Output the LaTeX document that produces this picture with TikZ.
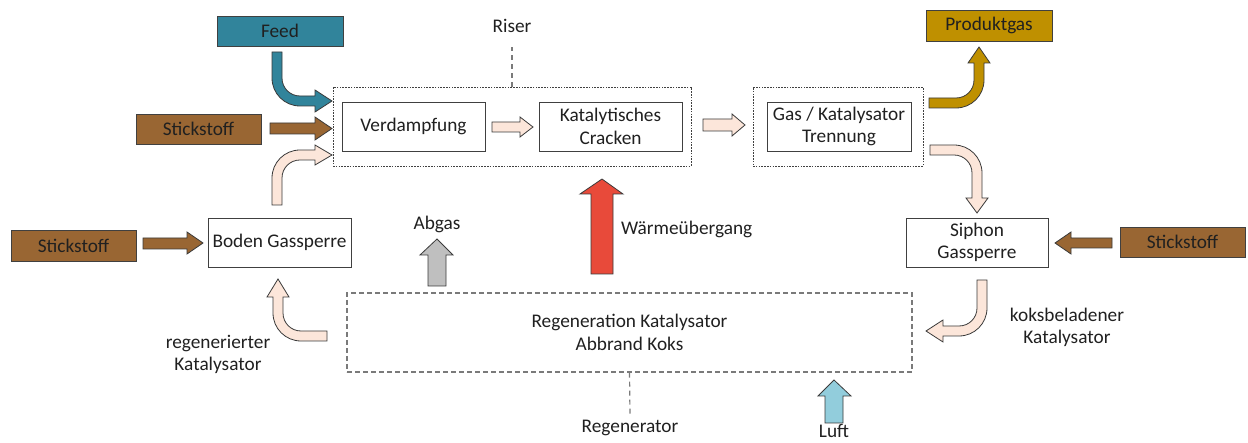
\documentclass[tikz,border=0pt]{standalone}
\usepackage{fontspec}
\setmainfont{Carlito}
\definecolor{txt}{HTML}{202020}
\definecolor{boxline}{HTML}{404040}
\definecolor{arrline}{HTML}{3A3A3A}
\definecolor{dashc}{HTML}{7A7A7A}
\definecolor{feedc}{HTML}{31849B}
\definecolor{stickc}{HTML}{996633}
\definecolor{prodc}{HTML}{BF9000}
\definecolor{palec}{HTML}{FCE6DA}
\definecolor{redc}{HTML}{E84A3A}
\definecolor{greyc}{HTML}{BFBFBF}
\definecolor{bluec}{HTML}{92CDDC}
\begin{document}
\begin{tikzpicture}[x=1pt,y=-1pt,
  every node/.style={font=\fontsize{19.3}{22.5}\selectfont, text=txt},
  box/.style={draw=boxline, line width=0.9pt, fill=white, align=center, inner sep=0pt},
  colbox/.style={draw=boxline, line width=0.9pt, align=center, inner sep=0pt},
  riserbox/.style={draw=boxline, line width=0.8pt, dash pattern=on 1.6pt off 1.2pt, inner sep=0pt},
  regenbox/.style={draw=dashc, line width=1.2pt, dash pattern=on 5pt off 3pt, align=center, inner sep=0pt},
  guide/.style={draw=dashc, line width=1.2pt, dash pattern=on 5pt off 4pt},
  blk/.style={draw=arrline, line width=0.8pt, line join=miter},
  lbl/.style={align=center, inner sep=0pt}
]
\useasboundingbox (0,0) rectangle (1248,443);

% dashed group boxes
\node[riserbox, minimum width=358pt, minimum height=79pt] (riser) at (512,126.5) {};
\node[riserbox, minimum width=170pt, minimum height=79pt] (gasgrp) at (838,126.5) {};
\node[regenbox, minimum width=565pt, minimum height=79pt] (regen) at (629.5,332.5) {Regeneration Katalysator\\Abbrand Koks};

% process boxes
\node[box, minimum width=143pt, minimum height=49pt] (verd) at (413.5,126.5) {Verdampfung};
\node[box, minimum width=143pt, minimum height=49pt] (crack) at (610.5,126.5) {Katalytisches\\Cracken};
\node[box, minimum width=144pt, minimum height=49pt] (gas) at (839,126.5) {Gas / Katalysator\\Trennung};
\node[box, minimum width=143pt, minimum height=49pt] (boden) at (279.5,242.5) {Boden Gassperre};
\node[box, minimum width=142pt, minimum height=49pt] (siphon) at (977,242.5) {Siphon\\Gassperre};

% coloured source boxes
\node[colbox, fill=feedc, minimum width=126pt, minimum height=30pt] (feed) at (280,31) {Feed};
\node[colbox, fill=stickc, minimum width=125pt, minimum height=30pt] (st1) at (198.5,129) {Stickstoff};
\node[colbox, fill=stickc, minimum width=125pt, minimum height=31pt] (st2) at (73.5,245.5) {Stickstoff};
\node[colbox, fill=stickc, minimum width=125pt, minimum height=30pt] (st3) at (1182.5,242) {Stickstoff};
\node[colbox, fill=prodc, minimum width=126pt, minimum height=31pt] (prod) at (989,25.5) {Produktgas};

% labels
\node[lbl] (riserlbl) at (512,26) {Riser};
\node[lbl] (abgas) at (437,224) {Abgas};
\node[lbl, anchor=west] (waerme) at (621,229) {Wärmeübergang};
\node[lbl] (regkat) at (218,354.5) {regenerierter\\Katalysator};
\node[lbl] (kokskat) at (1067,327.5) {koksbeladener\\Katalysator};
\node[lbl] (regenlbl) at (630,428) {Regenerator};
\node[lbl] (luft) at (834,431) {Luft};

% guide lines
\draw[guide] (riser.north) -- (512,47);
\draw[guide] (regen.south) -- (630,415);

% Feed bent arrow
\draw[blk, fill=feedc] (272,52) -- (272,78) .. controls (272,93.5) and (284.5,106) .. (300,106)
  -- (315,106) -- (315,112) -- (332,101) -- (315,90) -- (315,96) -- (300,96)
  .. controls (290,96) and (282,88) .. (282,78) -- (282,52) -- cycle;

% Stickstoff -> riser
\draw[blk, fill=stickc] (270,123) -- (315,123) -- (315,117) -- (332,128.5) -- (315,140) -- (315,134) -- (270,134) -- cycle;

% Boden -> riser (pale)
\draw[blk, fill=palec] (272,205) -- (272,178) .. controls (272,162.5) and (284.5,150) .. (300,150)
  -- (315,150) -- (315,145) -- (332,155) -- (315,165) -- (315,160) -- (300,160)
  .. controls (290,160) and (282,168) .. (282,178) -- (282,205) -- cycle;

% Verdampfung -> Cracken
\draw[blk, fill=palec] (492,122) -- (520,122) -- (520,117) -- (533,127) -- (520,137) -- (520,132) -- (492,132) -- cycle;

% Riser -> Gas
\draw[blk, fill=palec] (703,119) -- (732,119) -- (732,114) -- (745,125) -- (732,136) -- (732,131) -- (703,131) -- cycle;

% Produktgas bent arrow
\draw[blk, fill=prodc] (929,98) -- (956,98) .. controls (966,98) and (974,90) .. (974,80)
  -- (974,63) -- (968,63) -- (979,47) -- (990,63) -- (984,63) -- (984,80)
  .. controls (984,95.5) and (971.5,108) .. (956,108) -- (929,108) -- cycle;

% Gas -> Siphon (pale)
\draw[blk, fill=palec] (930,145) -- (954,145) .. controls (969.5,145) and (982,157.5) .. (982,173)
  -- (982,198) -- (988,198) -- (977,213) -- (966,198) -- (972,198) -- (972,173)
  .. controls (972,163) and (964,155) .. (954,155) -- (930,155) -- cycle;

% Stickstoff -> Siphon
\draw[blk, fill=stickc] (1112,238) -- (1071,238) -- (1071,232) -- (1055,243) -- (1071,254) -- (1071,248) -- (1112,248) -- cycle;

% Siphon -> Regenerator (pale)
\draw[blk, fill=palec] (977,280) -- (977,308) .. controls (977,318) and (969,326) .. (959,326)
  -- (943,326) -- (943,320) -- (926,331) -- (943,342) -- (943,336) -- (959,336)
  .. controls (974.5,336) and (987,323.5) .. (987,308) -- (987,280) -- cycle;

% Regenerator -> Boden (pale)
\draw[blk, fill=palec] (327,331) -- (301,331) .. controls (291,331) and (283,323) .. (283,313)
  -- (283,297) -- (289,297) -- (278,279) -- (267,297) -- (273,297) -- (273,313)
  .. controls (273,328.5) and (285.5,341) .. (301,341) -- (327,341) -- cycle;

% Stickstoff -> Boden
\draw[blk, fill=stickc] (143,238) -- (187,238) -- (187,232) -- (203,243) -- (187,254) -- (187,249) -- (143,249) -- cycle;

% Abgas
\draw[blk, fill=greyc] (428,286) -- (428,255) -- (420,255) -- (437,239) -- (453,255) -- (446,255) -- (446,286) -- cycle;

% Waermeuebergang
\draw[blk, fill=redc] (591,274) -- (591,194) -- (580,194) -- (602,179) -- (623,194) -- (613,194) -- (613,274) -- cycle;

% Luft
\draw[blk, fill=bluec] (825,423) -- (825,396) -- (818,396) -- (834,380) -- (851,396) -- (843,396) -- (843,423) -- cycle;
\end{tikzpicture}
\end{document}
